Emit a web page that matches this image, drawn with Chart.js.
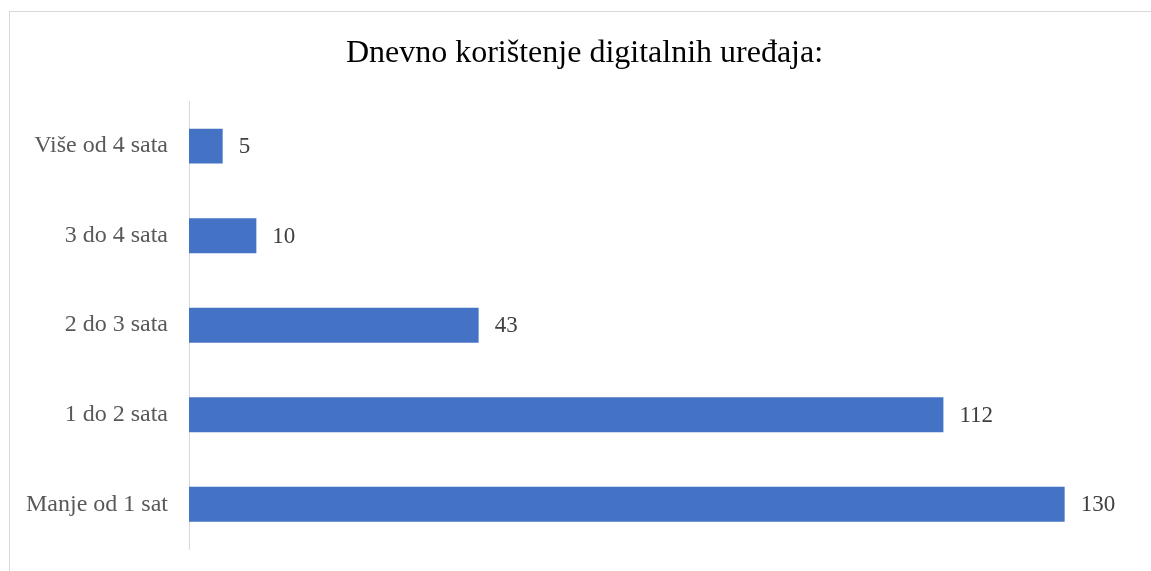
<!DOCTYPE html>
<html>
<head>
<meta charset="utf-8">
<script src="https://cdn.jsdelivr.net/npm/chart.js@4"></script>
<style>
  html, body { margin: 0; padding: 0; background: #fff; }
  #wrap { position: relative; width: 1151px; height: 571px; overflow: hidden; }
  #frame { position: absolute; left: 9px; top: 11px; width: 1200px; height: 600px;
           border-left: 1px solid #d9d9d9; border-top: 1px solid #d9d9d9; }
  canvas { position: absolute; left: 0; top: 0; }
</style>
</head>
<body>
<div id="wrap">
  <div id="frame"></div>
  <canvas id="chart" width="1151" height="571"></canvas>
</div>
<script>
// chart data
const categories = ['Više od 4 sata', '3 do 4 sata', '2 do 3 sata', '1 do 2 sata', 'Manje od 1 sat'];
const values = [5, 10, 43, 112, 130];
const chartTitle = 'Dnevno korištenje digitalnih uređaja:';

// draws the value next to each bar
const valueLabels = {
    id: 'valueLabels',
    afterDatasetsDraw(chart) {
        const ctx = chart.ctx;
        const meta = chart.getDatasetMeta(0);
        ctx.save();
        ctx.font = '23px "Liberation Serif"';
        ctx.fillStyle = '#404040';
        ctx.textAlign = 'left';
        ctx.textBaseline = 'middle';
        meta.data.forEach((bar, i) => {
            ctx.fillText(String(values[i]), bar.x + 16, bar.y + 1);
        });
        ctx.restore();
    }
};

// title is centred over the framed box, not the whole canvas
const titleShift = {
    id: 'titleShift',
    afterLayout(chart) {
        if (chart.titleBlock) chart.titleBlock.left = 37;
    }
};

new Chart(document.getElementById('chart'), {
    type: 'bar',
    data: {
        labels: categories,
        datasets: [{
            data: values,
            backgroundColor: '#4472c4',
            borderWidth: 0,
            categoryPercentage: 1,
            barPercentage: 0.39
        }]
    },
    options: {
        indexAxis: 'y',
        responsive: false,
        animation: false,
        layout: { padding: { left: 0, right: 19, top: 0, bottom: 22 } },
        plugins: {
            legend: { display: false },
            tooltip: { enabled: false },
            title: {
                display: true,
                text: chartTitle,
                color: '#000',
                font: { family: '"Liberation Serif"', size: 32, weight: 'normal', lineHeight: 1.2 },
                padding: { top: 34, bottom: 29 }
            }
        },
        scales: {
            x: {
                display: false,
                min: 0,
                max: 140
            },
            y: {
                grid: { display: false, drawTicks: false },
                border: { display: true, color: '#d9d9d9', width: 1 },
                ticks: {
                    color: '#595959',
                    padding: 21,
                    font: { family: '"Liberation Serif"', size: 24 }
                },
                afterFit(scale) {
                    scale.width = 189;
                    scale.paddingTop = 0;
                    scale.paddingBottom = 0;
                }
            }
        }
    },
    plugins: [valueLabels, titleShift]
});
</script>
</body>
</html>
